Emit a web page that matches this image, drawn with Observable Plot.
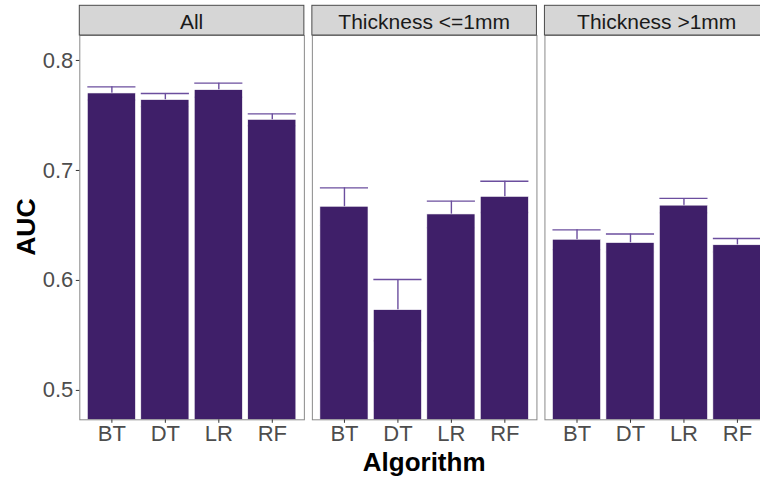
<!DOCTYPE html>
<html>
<head>
<meta charset="utf-8">
<script src="https://cdn.jsdelivr.net/npm/d3@7"></script>
<script src="https://cdn.jsdelivr.net/npm/@observablehq/plot@0.6"></script>
<style>
  html, body { margin: 0; padding: 0; background: #fff; overflow: hidden; }
  #chart { width: 760px; height: 479px; overflow: hidden; }
  #chart svg { display: block; max-width: none !important; height: 479px !important; width: 769px !important; }
</style>
</head>
<body>
<div id="chart"></div>
<script>
// Mean AUC (with standard error) of each algorithm, by tumour-thickness subset
const subsets = ["All", "Thickness <=1mm", "Thickness >1mm"];
const algorithms = ["BT", "DT", "LR", "RF"];

const aucAll   = [0.770, 0.764, 0.773, 0.746];
const seAll    = [0.006, 0.006, 0.0064, 0.0054];
const aucThin  = [0.667, 0.573, 0.660, 0.676];
const seThin   = [0.0172, 0.0279, 0.0121, 0.0142];
const aucThick = [0.637, 0.634, 0.668, 0.632];
const seThick  = [0.009, 0.0082, 0.0066, 0.0061];

const yTicks = [0.5, 0.6, 0.7, 0.8];

const rows = [];
[[aucAll, seAll], [aucThin, seThin], [aucThick, seThick]].forEach(([auc, se], i) => {
  algorithms.forEach((a, j) => rows.push({subset: subsets[i], algorithm: a, auc: auc[j], se: se[j]}));
});

const barFill = "#3f1f69";
const errColor = "#6b4e9e";
const font = "'Liberation Sans', Arial, Helvetica, sans-serif";
const tickFont = 22;

const plot = Plot.plot({
  width: 769,
  height: 479,
  marginLeft: 79.3,
  marginRight: 0,
  marginTop: 35,
  marginBottom: 59.7,
  style: {fontFamily: font, fontSize: `${tickFont}px`, background: "white", overflow: "visible", maxWidth: "none"},
  fx: {domain: subsets, paddingInner: 0.0344, paddingOuter: 0, axis: null, label: null, round: false},
  x: {domain: algorithms, paddingInner: 0.1, paddingOuter: 0.15, label: null, round: false},
  y: {domain: [0.4733, 0.8227], label: null},
  marks: [
    // error bars sit underneath the bars, so only the upper whisker shows
    Plot.ruleX(rows, {fx: "subset", x: "algorithm", y1: d => d.auc - d.se, y2: d => d.auc + d.se, stroke: errColor, strokeWidth: 1.4}),
    Plot.tickY(rows, {fx: "subset", x: "algorithm", y: d => d.auc + d.se, stroke: errColor, strokeWidth: 1.4}),
    Plot.tickY(rows, {fx: "subset", x: "algorithm", y: d => d.auc - d.se, stroke: errColor, strokeWidth: 1.4}),
    Plot.barY(rows, {fx: "subset", x: "algorithm", y: "auc", fill: barFill, stroke: "white", strokeWidth: 0.6, clip: true}),
    Plot.frame({stroke: "#8a8a8a", strokeWidth: 1}),
    Plot.axisY({ticks: yTicks, tickFormat: d3.format(".1f"), tickSize: 3.5, tickPadding: 3, label: null, color: "#4d4d4d", stroke: "#333", fontSize: tickFont}),
    Plot.axisX({tickSize: 3.5, tickPadding: 2.5, label: null, color: "#4d4d4d", stroke: "#333", fontSize: tickFont})
  ]
});

document.getElementById("chart").appendChild(plot);

// Facet strips and axis titles, placed with the plot's own scales
const svg = d3.select(plot);
const fx = plot.scale("fx");
const y = plot.scale("y");
const stripTop = 5.3, stripHeight = 29.7;
const strips = svg.append("g").attr("font-family", font);
subsets.forEach(s => {
  const x0 = fx.apply(s);
  strips.append("rect")
    .attr("x", x0).attr("y", stripTop)
    .attr("width", fx.bandwidth).attr("height", stripHeight)
    .attr("fill", "#d6d6d6").attr("stroke", "#4a4a4a").attr("stroke-width", 1);
  strips.append("text")
    .attr("x", x0 + fx.bandwidth / 2).attr("y", stripTop + stripHeight / 2 + 1)
    .attr("text-anchor", "middle").attr("dominant-baseline", "central")
    .attr("font-size", 21).attr("fill", "#1a1a1a")
    .text(s);
});

const yMid = (y.range[0] + y.range[1]) / 2;
svg.append("text")
  .attr("transform", `translate(25.6,${yMid}) rotate(-90)`)
  .attr("text-anchor", "middle").attr("dominant-baseline", "central")
  .attr("font-family", font).attr("font-size", 26.5).attr("font-weight", "bold").attr("fill", "#000")
  .text("AUC");

const xMid = (fx.range[0] + fx.range[1]) / 2;
svg.append("text")
  .attr("x", xMid).attr("y", 470.5)
  .attr("text-anchor", "middle")
  .attr("font-family", font).attr("font-size", 26).attr("font-weight", "bold").attr("fill", "#000")
  .text("Algorithm");
</script>
</body>
</html>
